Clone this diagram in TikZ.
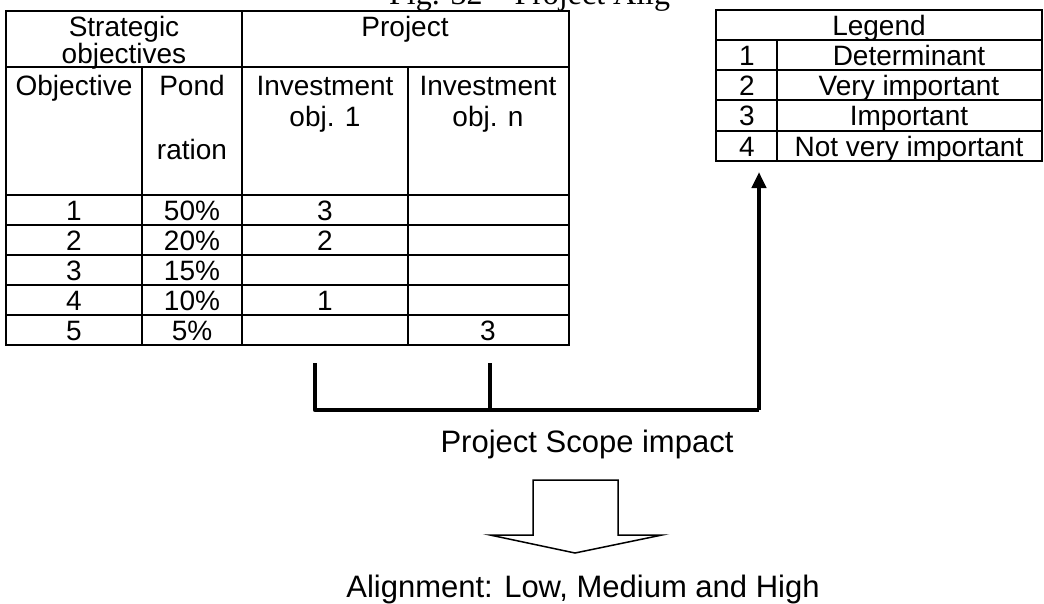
\documentclass[tikz,border=0pt]{standalone}
\usepackage{fontspec}
\setmainfont{Liberation Sans}
\newfontfamily\capfont{Liberation Serif}
\usetikzlibrary{arrows.meta}
\begin{document}
\begin{tikzpicture}[x=1pt,y=-1pt,
  grid/.style={line width=1.3pt},
  frame/.style={line width=1.8pt},
  cell/.style={inner sep=0pt,anchor=base,font=\fontsize{28}{32}\selectfont},
  big/.style={inner sep=0pt,anchor=base,font=\fontsize{31}{36}\selectfont},
  bracket/.style={line width=4.5pt,line join=round},
  blockarrow/.style={line width=1.5pt,line join=miter}]
\useasboundingbox (0,0) rectangle (1044,603);

% caption line, mostly above the page edge
\node[anchor=base west,inner sep=0pt,font=\capfont\fontsize{32}{36}\selectfont] (caption) at (389,4.5) {Fig. 32 – Project Alig};

% ---- scoring table ----
\draw[frame] (6,11) rectangle (569,345);
\foreach \yy in {67,195,225,255,285,315} \draw[grid] (6,\yy) -- (569,\yy);
\draw[grid] (242,11) -- (242,345);
\foreach \xx in {142,408} \draw[grid] (\xx,67) -- (\xx,345);

\node[cell] (hStrat)  at (124,36) {Strategic};
\node[cell] (hObjs)   at (124,63) {objectives};
\node[cell] (hProj)   at (405,36) {Project};
\node[cell] (hObj)    at (74,95)  {Objective};
\node[cell] (hPond)   at (192,95) {Pond};
\node[cell] (hRation) at (192,159) {ration};
\node[cell] (hInvA)   at (325,95) {Investment};
\node[cell] (hInvA2)  at (325,126) {obj. 1};
\node[cell] (hInvN)   at (488,95) {Investment};
\node[cell] (hInvN2)  at (488,126) {obj. n};

\foreach \n/\w/\a/\b [count=\i] in {1/50\%/3/,2/20\%/2/,3/15\%//,4/10\%/1/,5/5\%//3}{
  \pgfmathsetmacro{\yb}{195+30*\i-5}
  \node[cell] (r\i c1) at (74,\yb)  {\n};
  \node[cell] (r\i c2) at (192,\yb) {\w};
  \node[cell] (r\i c3) at (325,\yb) {\a};
  \node[cell] (r\i c4) at (488,\yb) {\b};
}

% ---- legend ----
\draw[frame] (716,10) rectangle (1042,161);
\foreach \yy in {40,70,100,131} \draw[grid] (716,\yy) -- (1042,\yy);
\draw[grid] (777,40) -- (777,161);
\coordinate (lgSW) at (716,161);
\node[cell] (lgHead) at (879,35) {Legend};
\foreach \k/\t [count=\i] in {1/Determinant,2/Very important,3/Important,4/Not very important}{
  \pgfmathsetmacro{\yb}{40+30.25*\i-5}
  \node[cell] (lgNum\i) at (747,\yb) {\k};
  \node[cell] (lgTxt\i) at (909,\yb) {\t};
}

% ---- bracket collecting the investment columns ----
\coordinate (tickL) at (315,363);
\coordinate (tickM) at (490,363);
\coordinate (bR)    at (759,410);
\draw[bracket] (tickL) -- (tickL |- bR) -- (bR);
\draw[bracket] (tickM) -- (tickM |- bR);
\draw[bracket,shorten >=11pt,-{Triangle[length=16pt,width=14pt]}] (bR) -- (bR |- lgSW);

\node[big] (scope) at (587,452) {Project Scope impact};

% ---- hollow block arrow ----
\draw[blockarrow] (533,480) -- (618,480) -- (618,535) -- (662,535)
  -- (575,553) -- (490,535) -- (533,535) -- cycle;

\node[big] (align) at (583,597) {Alignment: Low, Medium and High};
\end{tikzpicture}
\end{document}
